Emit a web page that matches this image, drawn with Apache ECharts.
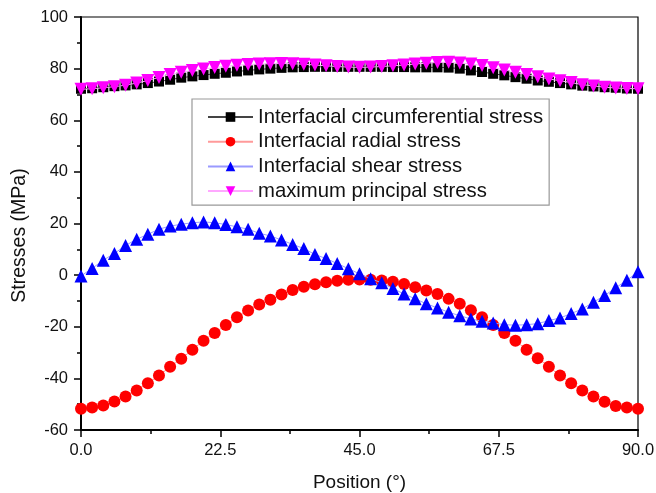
<!DOCTYPE html>
<html>
<head>
<meta charset="utf-8">
<script src="https://cdn.jsdelivr.net/npm/echarts@6/dist/echarts.min.js"></script>
<style>
html,body{margin:0;padding:0;background:#fff;}
#c{width:656px;height:493px;}
</style>
</head>
<body>
<div id="c"></div>
<script>
var positions = [0,1.8,3.6,5.4,7.2,9,10.8,12.6,14.4,16.2,18,19.8,21.6,23.4,25.2,27,28.8,30.6,32.4,34.2,36,37.8,39.6,41.4,43.2,45,46.8,48.6,50.4,52.2,54,55.8,57.6,59.4,61.2,63,64.8,66.6,68.4,70.2,72,73.8,75.6,77.4,79.2,81,82.8,84.6,86.4,88.2,90];

var circumferential = [72.2,72.4,72.8,73.2,73.5,73.9,74.4,75.0,75.7,76.5,
  77.0,77.5,78.0,78.4,78.9,79.3,79.7,80.0,80.3,80.5,
  80.6,80.7,80.7,80.7,80.7,80.7,80.7,80.7,80.6,80.6,
  80.5,80.5,80.5,80.4,80.0,79.3,78.7,78.0,77.4,76.7,
  76.1,75.4,74.9,74.4,73.9,73.4,73.1,72.8,72.6,72.3,72.2];

var radial = [-51.8,-51.3,-50.5,-49.0,-47.0,-44.7,-41.9,-38.9,-35.5,-32.4,
  -28.9,-25.4,-22.4,-19.3,-16.3,-13.7,-11.4,-9.5,-7.5,-5.8,
  -4.5,-3.5,-2.8,-2.2,-1.8,-1.7,-1.8,-2.1,-2.6,-3.4,
  -4.7,-6.0,-7.3,-9.2,-11.1,-13.6,-16.3,-19.3,-22.4,-25.4,
  -28.9,-32.2,-35.5,-38.9,-41.9,-44.7,-47.0,-49.1,-50.7,-51.3,-51.8];

var shear = [-0.3,2.6,5.8,8.4,11.5,13.9,15.8,17.8,19.0,19.7,
  20.3,20.6,20.3,19.6,18.7,17.8,16.2,15.2,13.6,11.9,
  10.3,8.0,6.4,4.5,2.5,0.5,-1.4,-3.0,-5.2,-7.3,
  -9.2,-11.1,-12.7,-14.4,-15.7,-17.0,-17.9,-18.5,-19.2,-19.4,
  -19.2,-18.8,-17.6,-16.6,-14.9,-13.1,-10.5,-7.9,-4.9,-2.0,1.3];

var maxPrincipal = [72.0,72.2,72.6,73.0,73.6,74.4,75.4,76.6,77.7,78.6,
  79.3,79.9,80.4,80.9,81.3,81.6,81.8,81.9,82.0,81.9,
  81.7,81.4,81.1,80.8,80.6,80.5,80.6,80.8,81.1,81.4,
  81.8,82.1,82.4,82.5,82.2,81.8,81.2,80.3,79.5,78.6,
  77.7,76.9,76.0,75.3,74.6,73.8,73.3,72.8,72.5,72.3,72.2];

var xTicks = {min: 0, max: 90, interval: 22.5};
var yTicks = {min: -60, max: 100, interval: 20};

var seriesNames = ['Interfacial circumferential stress','Interfacial radial stress','Interfacial shear stress','maximum principal stress'];

function pairs(arr){ return arr.map(function(v,i){ return [positions[i], v]; }); }

var FONT = '"Liberation Sans", Arial, sans-serif';
var chart = echarts.init(document.getElementById('c'), null, {renderer:'canvas'});
chart.setOption({
  animation: false,
  backgroundColor: '#fff',
  textStyle: {fontFamily: FONT},
  grid: {left: 81, right: 18, top: 17, bottom: 63, show: true, borderColor: '#000', borderWidth: 1.2,
         backgroundColor: 'transparent', containLabel: false, outerBoundsMode: 'none'},
  legend: {
    orient: 'vertical',
    left: 192, top: 99,
    padding: [8, 6, 4, 15],
    backgroundColor: '#fff',
    borderColor: '#999',
    borderWidth: 1.2,
    itemWidth: 45, itemHeight: 12,
    itemGap: 4.7,
    textStyle: {fontFamily: FONT, fontSize: 20.3, color: '#111', lineHeight: 20, padding: [0,0,0,0]},
    data: seriesNames
  },
  xAxis: {
    type: 'value', min: xTicks.min, max: xTicks.max, interval: xTicks.interval,
    name: 'Position (°)', nameLocation: 'middle', nameGap: 43,
    nameTextStyle: {fontFamily: FONT, fontSize: 19, color: '#111'},
    axisLine: {onZero: false, lineStyle: {color: '#000', width: 2}},
    axisTick: {show: true, inside: false, length: 7, lineStyle: {color: '#000', width: 1.5}},
    minorTick: {show: true, splitNumber: 2, length: 4, lineStyle: {color: '#000', width: 1.5}},
    axisLabel: {fontFamily: FONT, fontSize: 16.5, color: '#111', margin: 12, formatter: function(v){ return v.toFixed(1); }},
    splitLine: {show: false}
  },
  yAxis: {
    type: 'value', min: yTicks.min, max: yTicks.max, interval: yTicks.interval,
    name: 'Stresses (MPa)', nameLocation: 'middle', nameGap: 50, nameRotate: 90,
    nameTextStyle: {fontFamily: FONT, fontSize: 19.5, color: '#111', padding: [0, 24, 0, 0]},
    axisLine: {onZero: false, lineStyle: {color: '#000', width: 2}},
    axisTick: {show: true, inside: false, length: 7, lineStyle: {color: '#000', width: 1.5}},
    minorTick: {show: true, splitNumber: 2, length: 4, lineStyle: {color: '#000', width: 1.5}},
    axisLabel: {fontFamily: FONT, fontSize: 16.5, color: '#111', margin: 13},
    splitLine: {show: false}
  },
  series: [
    {name: seriesNames[0], type: 'line', data: pairs(circumferential), symbol: 'rect', symbolSize: 10,
     itemStyle: {color: '#000'}, lineStyle: {color: '#444', width: 1}, z: 2},
    {name: seriesNames[1], type: 'line', data: pairs(radial), symbol: 'circle', symbolSize: 12,
     itemStyle: {color: '#ff0000'}, lineStyle: {color: '#ff9a9a', width: 1}, z: 3},
    {name: seriesNames[2], type: 'line', data: pairs(shear), symbol: 'triangle', symbolSize: 13,
     itemStyle: {color: '#0000ff'}, lineStyle: {color: '#9a9aff', width: 1}, z: 4},
    {name: seriesNames[3], type: 'line', data: pairs(maxPrincipal), symbol: 'triangle', symbolRotate: 180, symbolSize: 13,
     itemStyle: {color: '#ff00ff'}, lineStyle: {color: '#ffa8ff', width: 1}, z: 5}
  ]
});
</script>
</body>
</html>
